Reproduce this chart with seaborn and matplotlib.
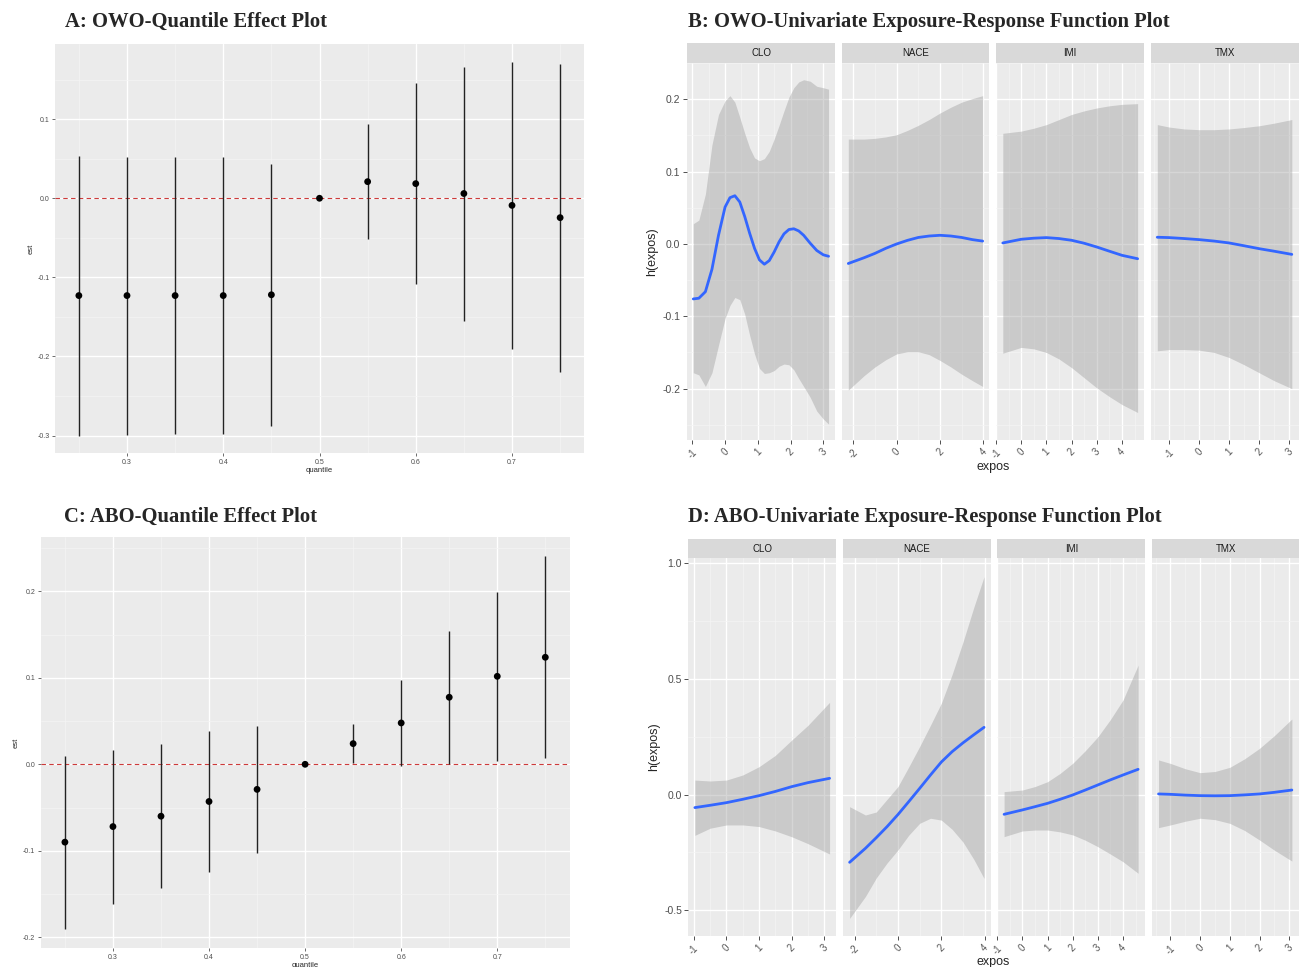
import numpy as np
import pandas as pd
import matplotlib
matplotlib.use("Agg")
import matplotlib.pyplot as plt
import seaborn as sns
from matplotlib.ticker import MultipleLocator

W, H = 1299, 967

# quantile effect plots (A: OWO, C: ABO)
quantile = [0.25, 0.30, 0.35, 0.40, 0.45, 0.50, 0.55, 0.60, 0.65, 0.70, 0.75]
owo_est = [-0.123, -0.123, -0.123, -0.123, -0.122, 0.0, 0.021, 0.0185, 0.006, -0.009, -0.0245]
owo_lo = [-0.300, -0.299, -0.298, -0.298, -0.288, 0.0, -0.0515, -0.1085, -0.155, -0.190, -0.2195]
owo_hi = [0.0535, 0.0523, 0.052, 0.052, 0.043, 0.0, 0.0937, 0.1456, 0.166, 0.1717, 0.170]
abo_est = [-0.090, -0.072, -0.060, -0.043, -0.029, 0.0, 0.0239, 0.0478, 0.0775, 0.1017, 0.1237]
abo_lo = [-0.190, -0.161, -0.143, -0.124, -0.103, 0.0, 0.0016, -0.0023, 0.0005, 0.0035, 0.007]
abo_hi = [0.010, 0.017, 0.0235, 0.038, 0.0447, 0.0, 0.047, 0.0975, 0.1546, 0.1997, 0.2405]

facets = ["CLO", "NACE", "IMI", "TMX"]

# B: OWO univariate exposure-response
owo_clo_x = [-0.97, -0.8, -0.6, -0.4, -0.2, 0.0, 0.15, 0.3, 0.45, 0.6, 0.75, 0.9, 1.05, 1.2, 1.35,
             1.5, 1.65, 1.8, 1.95, 2.1, 2.25, 2.4, 2.6, 2.8, 3.0, 3.16]
owo_clo_fit = [-0.076, -0.075, -0.066, -0.035, 0.012, 0.051, 0.064, 0.0667, 0.058, 0.038, 0.015, -0.006,
               -0.022, -0.028, -0.023, -0.011, 0.003, 0.014, 0.020, 0.021, 0.018, 0.012, 0.001, -0.009,
               -0.015, -0.017]
owo_clo_lo = [-0.178, -0.181, -0.197, -0.178, -0.140, -0.103, -0.085, -0.074, -0.077, -0.097, -0.126,
              -0.152, -0.172, -0.179, -0.178, -0.175, -0.169, -0.166, -0.167, -0.174, -0.186, -0.197,
              -0.212, -0.231, -0.242, -0.249]
owo_clo_hi = [0.028, 0.033, 0.069, 0.137, 0.179, 0.198, 0.205, 0.196, 0.175, 0.153, 0.133, 0.119, 0.115,
              0.118, 0.128, 0.145, 0.164, 0.184, 0.203, 0.216, 0.224, 0.227, 0.225, 0.218, 0.216, 0.214]

owo_nace_x = [-2.23, -1.5, -1.0, -0.5, 0.0, 0.5, 1.0, 1.5, 2.0, 2.5, 3.0, 3.5, 3.97]
owo_nace_fit = [-0.027, -0.019, -0.013, -0.006, 0.0, 0.005, 0.009, 0.011, 0.012, 0.011, 0.009, 0.006, 0.004]
owo_nace_lo = [-0.202, -0.182, -0.170, -0.160, -0.152, -0.149, -0.149, -0.153, -0.161, -0.170, -0.180,
               -0.189, -0.197]
owo_nace_hi = [0.145, 0.145, 0.146, 0.148, 0.151, 0.157, 0.164, 0.172, 0.181, 0.189, 0.196, 0.201, 0.205]

owo_imi_x = [-0.73, 0.0, 0.5, 1.0, 1.5, 2.0, 2.5, 3.0, 3.5, 4.0, 4.62]
owo_imi_fit = [0.0014, 0.0065, 0.008, 0.0088, 0.0075, 0.0051, 0.001, -0.0042, -0.010, -0.0157, -0.0204]
owo_imi_lo = [-0.151, -0.143, -0.145, -0.150, -0.159, -0.171, -0.185, -0.199, -0.211, -0.222, -0.233]
owo_imi_hi = [0.153, 0.156, 0.160, 0.165, 0.172, 0.179, 0.184, 0.188, 0.191, 0.193, 0.194]

owo_tmx_x = [-1.4, -1.0, -0.5, 0.0, 0.5, 1.0, 1.5, 2.0, 2.5, 3.09]
owo_tmx_fit = [0.0093, 0.0088, 0.0075, 0.006, 0.004, 0.0014, -0.0025, -0.0065, -0.010, -0.0144]
owo_tmx_lo = [-0.1477, -0.146, -0.146, -0.1468, -0.150, -0.157, -0.167, -0.178, -0.189, -0.200]
owo_tmx_hi = [0.165, 0.1616, 0.159, 0.158, 0.158, 0.159, 0.161, 0.1634, 0.167, 0.172]

# D: ABO univariate exposure-response
abo_clo_x = [-0.97, -0.5, 0.0, 0.5, 1.0, 1.5, 2.0, 2.5, 3.16]
abo_clo_fit = [-0.056, -0.046, -0.0346, -0.020, -0.0043, 0.014, 0.0346, 0.052, 0.0706]
abo_clo_lo = [-0.176, -0.145, -0.131, -0.131, -0.138, -0.157, -0.182, -0.212, -0.2565]
abo_clo_hi = [0.063, 0.059, 0.063, 0.085, 0.121, 0.170, 0.236, 0.300, 0.399]

abo_nace_x = [-2.23, -1.5, -1.0, -0.5, 0.0, 0.5, 1.0, 1.5, 2.0, 2.5, 3.0, 3.5, 3.97]
abo_nace_fit = [-0.2925, -0.232, -0.186, -0.138, -0.086, -0.030, 0.027, 0.085, 0.141, 0.186, 0.224,
                0.259, 0.291]
abo_nace_lo = [-0.535, -0.440, -0.360, -0.295, -0.239, -0.175, -0.124, -0.102, -0.110, -0.150, -0.205,
               -0.280, -0.362]
abo_nace_hi = [-0.052, -0.088, -0.075, -0.020, 0.035, 0.120, 0.208, 0.300, 0.395, 0.520, 0.660, 0.810, 0.942]

abo_imi_x = [-0.73, 0.0, 0.5, 1.0, 1.5, 2.0, 2.5, 3.0, 3.5, 4.0, 4.6]
abo_imi_fit = [-0.085, -0.066, -0.052, -0.0375, -0.020, -0.0014, 0.020, 0.042, 0.064, 0.085, 0.1095]
abo_imi_lo = [-0.1816, -0.157, -0.153, -0.153, -0.161, -0.174, -0.197, -0.225, -0.257, -0.290, -0.340]
abo_imi_hi = [0.013, 0.020, 0.035, 0.056, 0.092, 0.1355, 0.190, 0.250, 0.325, 0.409, 0.560]

abo_tmx_x = [-1.4, -1.0, -0.5, 0.0, 0.5, 1.0, 1.5, 2.0, 2.5, 3.09]
abo_tmx_fit = [0.003, 0.0014, -0.002, -0.0043, -0.005, -0.0043, -0.001, 0.003, 0.010, 0.020]
abo_tmx_lo = [-0.1427, -0.131, -0.115, -0.102, -0.108, -0.124, -0.155, -0.196, -0.240, -0.287]
abo_tmx_hi = [0.150, 0.135, 0.112, 0.095, 0.100, 0.118, 0.155, 0.200, 0.255, 0.327]

sns.set_theme(style="darkgrid", rc={
    "axes.facecolor": "#EBEBEB",
    "grid.color": "white",
    "axes.edgecolor": "#EBEBEB",
})
plt.rcParams["font.family"] = ["Liberation Sans", "DejaVu Sans"]

fig = plt.figure(figsize=(W / 100, H / 100), dpi=100)
fig.patch.set_facecolor("white")


def px_axes(l, t, r, b):
    return fig.add_axes([l / W, 1 - b / H, (r - l) / W, (b - t) / H])


def gg_grid(ax, xmaj, ymaj):
    ax.xaxis.set_major_locator(MultipleLocator(xmaj))
    ax.xaxis.set_minor_locator(MultipleLocator(xmaj / 2))
    ax.yaxis.set_major_locator(MultipleLocator(ymaj))
    ax.yaxis.set_minor_locator(MultipleLocator(ymaj / 2))
    ax.grid(True, which="major", color="white", lw=1.0)
    ax.grid(True, which="minor", color="#F4F4F4", lw=0.5)
    ax.set_axisbelow(True)
    for s in ax.spines.values():
        s.set_visible(False)


def title(x, y, text):
    fig.text(x / W, 1 - y / H, text, family=["Liberation Serif", "DejaVu Serif"],
             fontweight="bold", fontsize=14.9, va="center", ha="left")


def quantile_panel(box, est, lo, hi, xlim, ylim):
    ax = px_axes(*box)
    df = pd.DataFrame({"quantile": quantile, "est": est, "lo": lo, "hi": hi})
    ax.axhline(0, color="#CD3A3A", lw=0.8, ls=(0, (4, 3)), zorder=2)
    ax.vlines(df["quantile"], df["lo"], df["hi"], color="#222222", lw=1.0, zorder=2)
    sns.scatterplot(data=df, x="quantile", y="est", color="black", s=24, edgecolor="none",
                    ax=ax, zorder=3, legend=False)
    ax.set_xlim(*xlim)
    ax.set_ylim(*ylim)
    gg_grid(ax, 0.1, 0.1)
    ax.xaxis.set_major_formatter(matplotlib.ticker.FormatStrFormatter("%.1f"))
    ax.yaxis.set_major_formatter(matplotlib.ticker.FormatStrFormatter("%.1f"))
    ax.tick_params(axis="both", which="major", length=2.5, width=0.5, color="#333333",
                   labelsize=5, labelcolor="#4D4D4D", pad=1.5, left=True, bottom=True)
    ax.tick_params(which="minor", length=0)
    ax.set_xlabel("quantile", fontsize=5.5, labelpad=1)
    ax.set_ylabel("est", fontsize=5.5, labelpad=2)
    return ax


quantile_panel((55, 44, 584, 453), owo_est, owo_lo, owo_hi, (0.2252, 0.7748), (-0.322, 0.195))
quantile_panel((40.7, 537.3, 570, 948.3), abo_est, abo_lo, abo_hi, (0.2248, 0.7757), (-0.2127, 0.2624))

title(65, 22, "A: OWO-Quantile Effect Plot")
title(688, 22, "B: OWO-Univariate Exposure-Response Function Plot")
title(64, 517, "C: ABO-Quantile Effect Plot")
title(688, 517, "D: ABO-Univariate Exposure-Response Function Plot")


def facet_panels(cols, strip_top, top, bottom, data, ylim, ymaj, xlims, xmajs, xlab_y):
    axes = []
    for i, (name, (l, r)) in enumerate(zip(facets, cols)):
        x, fit, lo, hi = data[name]
        ax = px_axes(l, top, r, bottom)
        df = pd.DataFrame({"expos": x, "fit": fit, "lo": lo, "hi": hi})
        ax.fill_between(df["expos"], df["lo"], df["hi"], color="#999999", alpha=0.4, lw=0, zorder=2)
        sns.lineplot(data=df, x="expos", y="fit", color="#3366FF", lw=2.0, ax=ax, zorder=3)
        ax.set_xlim(*xlims[i])
        ax.set_ylim(*ylim)
        gg_grid(ax, xmajs[i], ymaj)
        ax.xaxis.set_major_formatter(matplotlib.ticker.FormatStrFormatter("%g"))
        ax.yaxis.set_major_formatter(matplotlib.ticker.FormatStrFormatter("%.1f"))
        ax.tick_params(axis="x", which="major", length=3, width=0.6, color="#333333", labelsize=7,
                       labelcolor="#555555", pad=2, bottom=True, labelrotation=45)
        for lab in ax.get_xticklabels():
            lab.set_ha("center")
            lab.set_va("top")
        ax.tick_params(which="minor", length=0)
        ax.set_xlabel("")
        ax.set_ylabel("")
        if i == 0:
            ax.tick_params(axis="y", which="major", length=3, width=0.6, color="#333333",
                           labelsize=7.5, labelcolor="#4D4D4D", pad=1.5, left=True)
            ax.set_ylabel("h(expos)", fontsize=9, labelpad=3)
        else:
            ax.tick_params(axis="y", which="major", left=False, labelleft=False)
        sax = px_axes(l, strip_top, r, top)
        sax.set_facecolor("#D9D9D9")
        sax.set_xticks([])
        sax.set_yticks([])
        sax.grid(False)
        for s in sax.spines.values():
            s.set_visible(False)
        sax.text(0.5, 0.5, name, ha="center", va="center", fontsize=7, color="#1A1A1A",
                 transform=sax.transAxes)
        axes.append(ax)
    mid = (cols[0][0] + cols[-1][1]) / 2
    fig.text(mid / W, 1 - xlab_y / H, "expos", ha="center", va="center", fontsize=9)
    return axes


owo_data = {
    "CLO": (owo_clo_x, owo_clo_fit, owo_clo_lo, owo_clo_hi),
    "NACE": (owo_nace_x, owo_nace_fit, owo_nace_lo, owo_nace_hi),
    "IMI": (owo_imi_x, owo_imi_fit, owo_imi_lo, owo_imi_hi),
    "TMX": (owo_tmx_x, owo_tmx_fit, owo_tmx_lo, owo_tmx_hi),
}
abo_data = {
    "CLO": (abo_clo_x, abo_clo_fit, abo_clo_lo, abo_clo_hi),
    "NACE": (abo_nace_x, abo_nace_fit, abo_nace_lo, abo_nace_hi),
    "IMI": (abo_imi_x, abo_imi_fit, abo_imi_lo, abo_imi_hi),
    "TMX": (abo_tmx_x, abo_tmx_fit, abo_tmx_lo, abo_tmx_hi),
}
xlims = [(-1.171, 3.366), (-2.535, 4.277), (-1.0, 4.885), (-1.62, 3.33)]
xmajs = [1, 2, 1, 1]

facet_panels([(686.7, 835.3), (841.7, 989.3), (996, 1144.3), (1150.7, 1299)],
             43.3, 62.7, 440, owo_data, (-0.271, 0.2506), 0.1, xlims, xmajs, 467)
facet_panels([(688.3, 836.3), (843, 990.7), (997.3, 1145.3), (1152, 1299)],
             539, 558.3, 936, abo_data, (-0.611, 1.0216), 0.5, xlims, xmajs, 962)

fig.savefig("out.png", dpi=100, facecolor="white")
